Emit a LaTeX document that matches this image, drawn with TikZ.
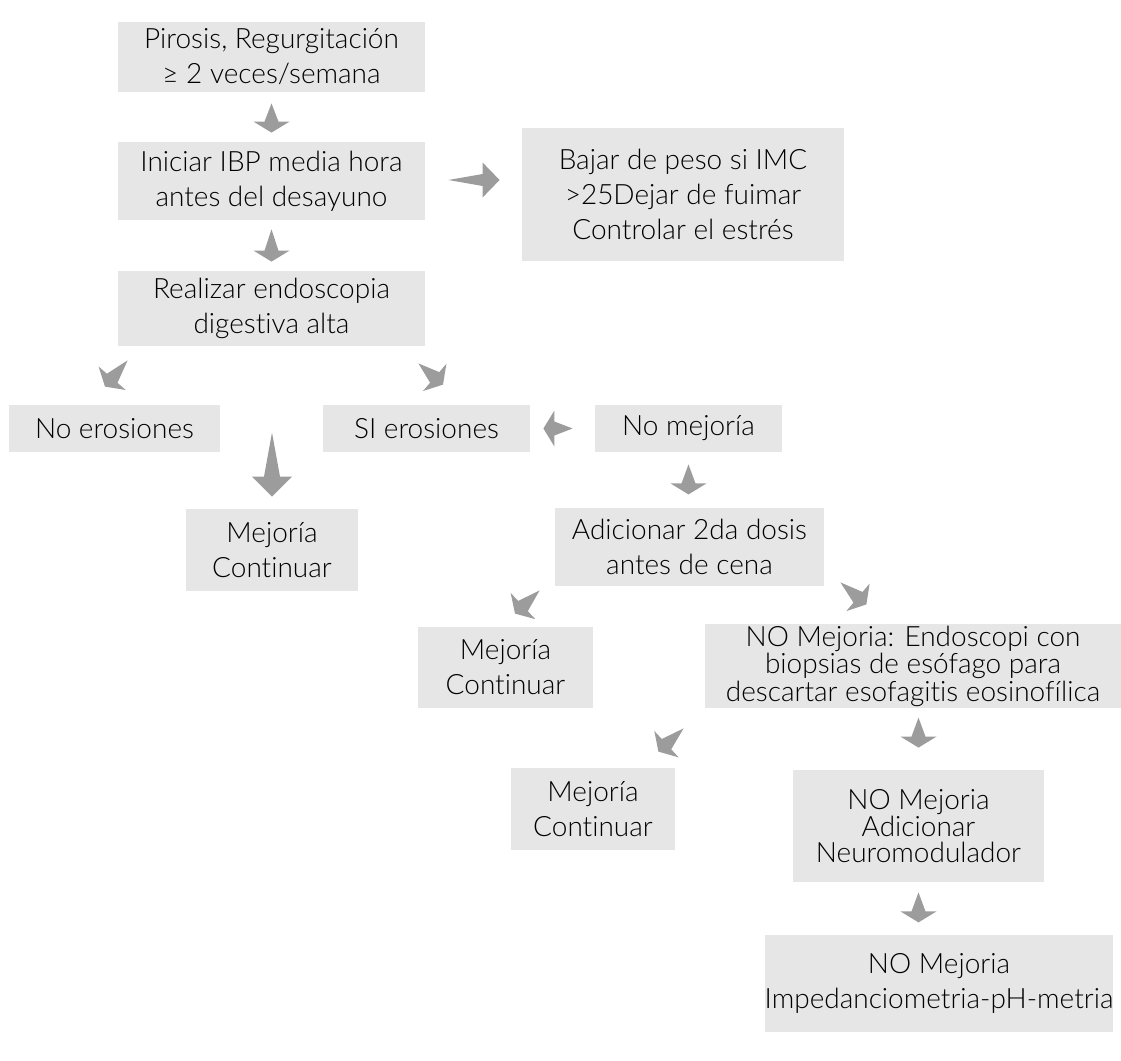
\documentclass[tikz,border=0pt]{standalone}
\usepackage{fontspec}
\setmainfont{Lato}[UprightFont=* Light, Ligatures=NoCommon]
\usetikzlibrary{calc}

\definecolor{boxgray}{HTML}{E6E6E6}
\definecolor{arrowgray}{HTML}{9C9C9C}

\tikzset{
  box/.style={fill=boxgray, align=center, inner sep=0pt, font=\fontsize{14}{17.5}\selectfont},
  fatarrow/.style n args={3}{fill=arrowgray, to path={
    let \p1=(\tikztostart), \p2=(\tikztotarget) in
    (\p2) -- ($(\p2)!#1!(\p1)!#2!90:(\p1)$)
    -- ($(\p2)!#1!(\p1)!#3!90:(\p1)$) -- (\p1)
    -- ($(\p2)!#1!(\p1)!#3!-90:(\p1)$)
    -- ($(\p2)!#1!(\p1)!#2!-90:(\p1)$) -- cycle}},
  smallarrow/.style={fatarrow={5.5pt}{9pt}{3.5pt}},
  bigarrow/.style={fatarrow={10pt}{10pt}{4pt}}
}

\begin{document}
\begin{tikzpicture}[x=0.5pt,y=-0.5pt]
\useasboundingbox (0,0) rectangle (1121,1061);
% boxes
\node[box, minimum width=153.5pt, minimum height=35pt] (pirosis) at (271.5,57) {Pirosis, Regurgitación\\≥ 2 veces/semana};
\node[box, minimum width=153.5pt, minimum height=39pt] (iniciar) at (271.5,181) {Iniciar IBP media hora\\antes del desayuno};
\node[box, minimum width=161pt, minimum height=66.5pt] (bajar) at (683,194.5) {Bajar de peso si IMC\\>25Dejar de fuimar\\Controlar el estrés};
\node[box, minimum width=153.5pt, minimum height=37.5pt] (realizar) at (271.5,308.5) {Realizar endoscopia\\digestiva alta};
\node[box, minimum width=105.5pt, minimum height=23.5pt] (noero) at (114.5,428.5) {No erosiones};
\node[box, minimum width=103.5pt, minimum height=23.5pt] (siero) at (426.5,428.5) {SI erosiones};
\node[box, minimum width=93.5pt, minimum height=23.5pt] (nomej) at (688.5,428.5) {No mejoría};
\node[box, minimum width=86pt, minimum height=41pt] (mejoria1) at (272,550) {Mejoría\\Continuar};
\node[box, minimum width=134.5pt, minimum height=39pt] (adicionar) at (689.5,547) {Adicionar 2da dosis\\antes de cena};
\node[box, minimum width=87.5pt, minimum height=40.5pt] (mejoria2) at (505.5,667.5) {Mejoría\\Continuar};
\node[box, minimum width=208pt, minimum height=42pt, font=\fontsize{14}{12}\selectfont] (endoscopi) at (913,666) {NO Mejoria: Endoscopi con\\biopsias de esófago para\\descartar esofagitis eosinofílica};
\node[box, minimum width=82pt, minimum height=41pt] (mejoria3) at (593,809) {Mejoría\\Continuar};
\node[box, minimum width=125.5pt, minimum height=56pt, font=\fontsize{14}{12.75}\selectfont] (neuro) at (918.5,826) {NO Mejoria\\Adicionar\\Neuromodulador};
\node[box, minimum width=171pt, minimum height=48.5pt] (impedancio) at (939,983.5) {NO Mejoria\\Impedanciometria-pH-metria};
% arrows
\path[smallarrow] ($(pirosis.south)+(0,11)$) to ($(iniciar.north)+(0,-9)$);
\path[fatarrow={8.5pt}{8.75pt}{3pt}] ($(iniciar.east)+(23,-1)$) to ($(bajar.west)+(-22,-14.5)$);
\path[smallarrow] ($(iniciar.south)+(0,9)$) to ($(realizar.north)+(0,-9)$);
\path[smallarrow] ($(realizar.south west)+(10,14)$) to ($(noero.north)+(-9.5,-18)$);
\path[smallarrow] ($(realizar.south east)+(-7,17)$) to ($(siero.north)+(16.5,-20)$);
\path[bigarrow] ($(mejoria1.north)+(0,-76)$) to ($(mejoria1.north)+(0,-12)$);
\path[smallarrow] ($(nomej.west)+(-22,0)$) to ($(siero.east)+(13,0)$);
\path[smallarrow] ($(nomej.south)+(0,12)$) to ($(nomej.south)+(0,42)$);
\path[smallarrow] ($(adicionar.south west)+(-15,4)$) to ($(mejoria2.north)+(9.5,-13)$);
\path[smallarrow] ($(adicionar.south east)+(16,-4)$) to ($(adicionar.south east)+(42,18)$);
\path[smallarrow] ($(endoscopi.south west)+(-21,20)$) to ($(mejoria3.north east)+(-17,-16)$);
\path[smallarrow] ($(neuro.north)+(0,-52)$) to ($(neuro.north)+(0,-22)$);
\path[smallarrow] ($(neuro.south)+(0,10)$) to ($(neuro.south)+(0,40)$);
\end{tikzpicture}
\end{document}
